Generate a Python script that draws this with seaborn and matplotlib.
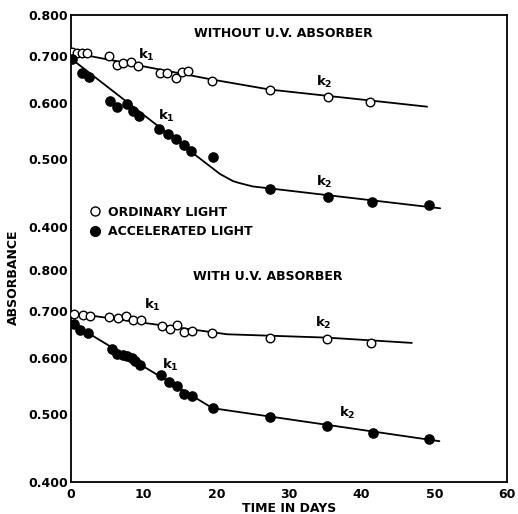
import numpy as np
import pandas as pd
import matplotlib
matplotlib.use("Agg")
import matplotlib.pyplot as plt
from matplotlib.lines import Line2D
from matplotlib.ticker import FixedLocator, NullLocator, FixedFormatter
import seaborn as sns

# ---------------- data (absorbance vs time in days) ----------------
# Without U.V. absorber, ordinary light
top_open_days = [0.1, 0.8, 1.5, 2.2, 5.2, 6.3, 7.2, 8.3, 9.2, 12.2, 13.2, 14.4, 15.3, 16.1, 19.4, 27.4, 35.4, 41.1]
top_open_vals = [0.708, 0.706, 0.706, 0.706, 0.699, 0.679, 0.683, 0.686, 0.677, 0.663, 0.663, 0.652, 0.665, 0.666, 0.644, 0.627, 0.613, 0.603]
top_open_fit_days = [0, 19.4, 27.4, 49.0]
top_open_fit_vals = [0.708, 0.648, 0.627, 0.593]

# Without U.V. absorber, accelerated light
top_fill_days = [0.1, 1.5, 2.5, 5.4, 6.3, 7.7, 8.5, 9.4, 12.1, 13.3, 14.4, 15.5, 16.5, 19.5, 27.4, 35.4, 41.4, 49.2]
top_fill_vals = [0.694, 0.661, 0.654, 0.605, 0.593, 0.599, 0.585, 0.575, 0.552, 0.543, 0.534, 0.523, 0.513, 0.503, 0.453, 0.442, 0.434, 0.430]
top_fill_fit_days = [0, 17.7, 20.5, 22.3, 23.2, 25.0, 27.4, 50.8]
top_fill_fit_vals = [0.694, 0.501, 0.476, 0.465, 0.462, 0.457, 0.454, 0.4255]

# With U.V. absorber, ordinary light
bot_open_days = [0.4, 1.7, 2.6, 5.2, 6.5, 7.6, 8.5, 9.6, 12.5, 13.6, 14.6, 15.5, 16.6, 19.4, 27.4, 35.2, 41.3]
bot_open_vals = [0.693, 0.691, 0.689, 0.686, 0.684, 0.689, 0.678, 0.678, 0.666, 0.660, 0.669, 0.652, 0.654, 0.650, 0.641, 0.639, 0.630]
bot_open_fit_days = [0, 21.5, 35.2, 46.9]
bot_open_fit_vals = [0.695, 0.648, 0.641, 0.630]

# With U.V. absorber, accelerated light
bot_fill_days = [0.4, 1.2, 2.3, 5.6, 6.3, 7.2, 7.7, 8.4, 8.8, 9.5, 12.4, 13.5, 14.6, 15.5, 16.6, 19.5, 27.4, 35.2, 41.5, 49.2]
bot_fill_vals = [0.671, 0.658, 0.650, 0.618, 0.608, 0.605, 0.603, 0.599, 0.593, 0.587, 0.568, 0.554, 0.547, 0.534, 0.529, 0.509, 0.494, 0.480, 0.469, 0.460]
bot_fill_fit_days = [0, 19.5, 50.7]
bot_fill_fit_vals = [0.673, 0.509, 0.457]

ytick_values = [0.400, 0.500, 0.600, 0.700, 0.800]
ytick_labels = ["0.400", "0.500", "0.600", "0.700", "0.800"]
xticks = [0, 10, 20, 30, 40, 50, 60]

# vertical shift of the upper panel on the log axis (in decades)
PANEL_SHIFT = 0.3614
factor = 10 ** PANEL_SHIFT

# ---------------- styling ----------------
sns.set_style("white")
plt.rcParams["font.family"] = ["DejaVu Sans"]
plt.rcParams["font.weight"] = "bold"
plt.rcParams["mathtext.default"] = "regular"
plt.rcParams["text.color"] = "black"
plt.rcParams["axes.labelcolor"] = "black"
plt.rcParams["xtick.color"] = "black"
plt.rcParams["ytick.color"] = "black"

fig = plt.figure(figsize=(5.18, 5.14), dpi=100)
ax = fig.add_axes([0.137, 0.0623, 0.8418, 0.9085])


def frame(days, vals, shift):
    return pd.DataFrame({"day": days, "abs": np.array(vals) * (factor if shift else 1.0)})


# points
for days, vals, shift, filled in [
    (top_open_days, top_open_vals, True, False),
    (top_fill_days, top_fill_vals, True, True),
    (bot_open_days, bot_open_vals, False, False),
    (bot_fill_days, bot_fill_vals, False, True),
]:
    sns.scatterplot(data=frame(days, vals, shift), x="day", y="abs", ax=ax,
                    s=44 if filled else 38,
                    facecolor="black" if filled else "white",
                    edgecolor="black", linewidth=1.0, zorder=3, legend=False)

# fitted lines
for days, vals, shift in [
    (top_open_fit_days, top_open_fit_vals, True),
    (top_fill_fit_days, top_fill_fit_vals, True),
    (bot_open_fit_days, bot_open_fit_vals, False),
    (bot_fill_fit_days, bot_fill_fit_vals, False),
]:
    sns.lineplot(data=frame(days, vals, shift), x="day", y="abs", ax=ax,
                 color="black", linewidth=1.3, sort=False, estimator=None, zorder=2)

ax.set_yscale("log")
ax.set_xlim(0, 60)
ax.set_ylim(0.4, 0.8 * factor)

ypos = ytick_values + [v * factor for v in ytick_values]
ax.yaxis.set_major_locator(FixedLocator(ypos))
ax.yaxis.set_major_formatter(FixedFormatter(ytick_labels + ytick_labels))
ax.yaxis.set_minor_locator(NullLocator())
ax.set_xticks(xticks)
ax.set_xticklabels([str(t) for t in xticks])

ax.tick_params(axis="both", direction="in", length=5, width=1.2, colors="black",
               labelcolor="black", labelsize=9, pad=2)
ax.tick_params(axis="x", pad=4)
for sp in ax.spines.values():
    sp.set_color("black")
    sp.set_linewidth(1.3)

ax.set_xlabel("TIME IN DAYS", fontsize=9, fontweight="bold", labelpad=1, color="black")
ax.set_ylabel("ABSORBANCE", fontsize=9, fontweight="bold", color="black")
ax.yaxis.set_label_coords(-0.117, 0.439)

# panel titles
ax.text(0.486, 0.961, "WITHOUT U.V. ABSORBER", transform=ax.transAxes,
        ha="center", va="center", fontsize=9, fontweight="bold", color="black")
ax.text(0.451, 0.439, "WITH U.V. ABSORBER", transform=ax.transAxes,
        ha="center", va="center", fontsize=9, fontweight="bold", color="black")

# rate constant labels
for (fx, fy, lab) in [
    (0.174, 0.914, "k$_1$"), (0.220, 0.784, "k$_1$"),
    (0.580, 0.857, "k$_2$"), (0.580, 0.642, "k$_2$"),
    (0.186, 0.379, "k$_1$"), (0.229, 0.251, "k$_1$"),
    (0.578, 0.340, "k$_2$"), (0.633, 0.148, "k$_2$"),
]:
    ax.text(fx, fy, lab, transform=ax.transAxes, ha="center", va="center",
            fontsize=9.5, fontweight="bold", color="black")

handles = [
    Line2D([], [], marker="o", linestyle="none", markersize=6.5,
           markerfacecolor="white", markeredgecolor="black", markeredgewidth=1.0,
           label="ORDINARY LIGHT"),
    Line2D([], [], marker="o", linestyle="none", markersize=7,
           markerfacecolor="black", markeredgecolor="black",
           label="ACCELERATED LIGHT"),
]
leg = ax.legend(handles=handles, loc="center left", bbox_to_anchor=(0.040, 0.557),
                frameon=False, borderpad=0, borderaxespad=0, handlelength=1.0,
                handletextpad=0.6, labelspacing=0.5, prop={"size": 9, "weight": "bold"})
for t in leg.get_texts():
    t.set_color("black")

fig.savefig("out.png", dpi=100)
